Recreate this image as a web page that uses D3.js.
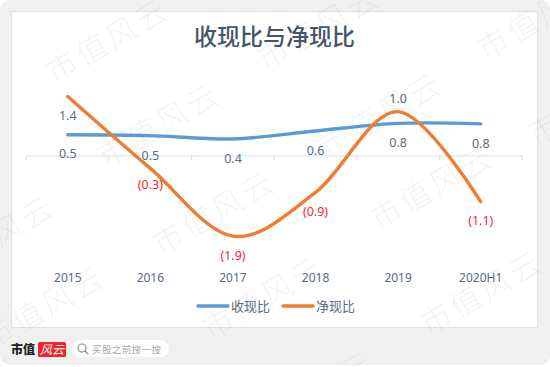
<!DOCTYPE html>
<html><head><meta charset="utf-8">
<style>html,body{margin:0;padding:0;background:#fff}svg{display:block}text{font-family:"Noto Sans","Noto Sans CJK SC",sans-serif}</style>
<script src="https://cdn.jsdelivr.net/npm/d3@7"></script></head><body>
<svg id="c" width="550" height="367"></svg>
<script>
const categories=["2015","2016","2017","2018","2019","2020H1"];
const cashRevenue=[0.49,0.47,0.39,0.58,0.76,0.75];
const cashProfit=[1.4,-0.31,-1.92,-0.88,1.04,-1.1];
const cashRevenueLabels=["0.5","0.5","0.4","0.6","0.8","0.8"];
const cashProfitLabels=["1.4","(0.3)","(1.9)","(0.9)","1.0","(1.1)"];
const seriesNames=["收现比","净现比"];
const watermarkCenters=[[109,43],[160,127],[215,215],[265,300],[320,30],[382,117],[433,190],[483,295],[540,20],[590,105],[-5,240],[45,310],[315,395]];

const svg=d3.select("#c");
const ink="#596a84";
svg.append("rect").attr("width",550).attr("height",365).attr("rx",10).attr("fill","#f0f0f0");
svg.append("rect").attr("x",11.5).attr("y",11.5).attr("width",526).attr("height",316).attr("fill","#fff").attr("stroke","#dde3ec").attr("stroke-width",1.2);

const x=d3.scaleBand().domain(categories).range([26.5,522]);
const cx=d=>x(d)+x.bandwidth()/2;
const y=d3.scaleLinear().domain([-2,1.4]).range([239.5,96.5]);

const wm=svg.append("g");
watermarkCenters.forEach(([a,b])=>{
  wm.append("text").attr("transform",`translate(${a},${b}) rotate(-30)`).attr("text-anchor","middle").attr("dominant-baseline","middle")
    .attr("font-size",31).attr("letter-spacing",3).attr("fill","#777").attr("fill-opacity",0.09).style("font-family","'Noto Sans CJK SC'").style("font-weight",300).text("市值风云");
});

svg.append("text").attr("x",274.5).attr("y",45).attr("text-anchor","middle").attr("font-size",23).attr("fill","#44546a")
  .style("font-family","'Noto Sans CJK SC'").style("font-weight",500).text("收现比与净现比");

const axis=d3.axisBottom(x).tickSizeOuter(0).tickSizeInner(0).tickFormat("");
const ag=svg.append("g").attr("transform",`translate(0,${y(0)})`).call(axis);
ag.select(".domain").attr("stroke","#dbe1ea").attr("stroke-width",1);
const edges=d3.range(categories.length+1).map(i=>26.5+i*x.step());
ag.selectAll("line.e").data(edges).join("line").attr("class","e").attr("x1",d=>d).attr("x2",d=>d).attr("y1",0).attr("y2",5).attr("stroke","#dbe1ea");

svg.selectAll("text.cat").data(categories).join("text").attr("class","cat").attr("x",cx).attr("y",282).attr("text-anchor","middle")
  .attr("font-size",12).attr("fill",ink).text(d=>d);

const line=d3.line().x((d,i)=>cx(categories[i])).y(d=>y(d)).curve(d3.curveCardinal.tension(0));
const colors=["#5b9bd5","#ed7d31"];
[cashRevenue,cashProfit].forEach((s,k)=>{
  svg.append("path").datum(s).attr("d",line).attr("fill","none").attr("stroke",colors[k]).attr("stroke-width",3.4).attr("stroke-linecap","round");
});

const labelFont=12.5;
svg.selectAll("text.a").data(cashRevenue).join("text").attr("class","a").attr("x",(d,i)=>cx(categories[i])).attr("y",(d,i)=>y(d)+(i==0?23:24))
  .attr("text-anchor","middle").attr("font-size",labelFont).attr("fill",ink).text((d,i)=>cashRevenueLabels[i]);
svg.selectAll("text.b").data(cashProfit).join("text").attr("class","b").attr("x",(d,i)=>cx(categories[i])).attr("y",(d,i)=>i==4?y(d)-9:y(d)+(i==1?21:i==5?23:i==0?23:24))
  .attr("text-anchor","middle").attr("font-size",labelFont).attr("fill",(d)=>d<0?"#ff2530":ink).text((d,i)=>cashProfitLabels[i]);

const lx=[198,283];
seriesNames.forEach((n,k)=>{
  svg.append("line").attr("x1",lx[k]).attr("x2",lx[k]+30).attr("y1",306).attr("y2",306).attr("stroke",colors[k]).attr("stroke-width",3.4).attr("stroke-linecap","round");
  svg.append("text").attr("x",lx[k]+33).attr("y",311).attr("font-size",13).attr("fill",ink).style("font-family","'Noto Sans CJK SC'").text(n);
});

svg.append("text").attr("x",11).attr("y",354).attr("font-size",12).attr("font-weight",900).attr("fill","#222").style("font-family","'Noto Sans CJK SC'").text("市值");
svg.append("rect").attr("x",38).attr("y",342).attr("width",28).attr("height",15).attr("rx",1.5).attr("fill","#f0232f");
svg.append("text").attr("x",52).attr("y",354).attr("text-anchor","middle").attr("font-size",12).attr("fill","#fff").attr("font-style","italic").style("font-family","'Noto Sans CJK SC'").text("风云");
svg.append("rect").attr("x",72).attr("y",340).attr("width",97).attr("height",17).attr("rx",8.5).attr("fill","#fff");
svg.append("circle").attr("cx",82).attr("cy",348).attr("r",4).attr("fill","none").attr("stroke","#888").attr("stroke-width",1.2);
svg.append("line").attr("x1",85).attr("y1",351).attr("x2",88).attr("y2",354).attr("stroke","#888").attr("stroke-width",1.3);
svg.append("text").attr("x",92).attr("y",353).attr("font-size",9.5).attr("letter-spacing",0.4).attr("fill","#a8a8a8").style("font-family","'Noto Sans CJK SC'").text("买股之前搜一搜");
</script></body></html>
